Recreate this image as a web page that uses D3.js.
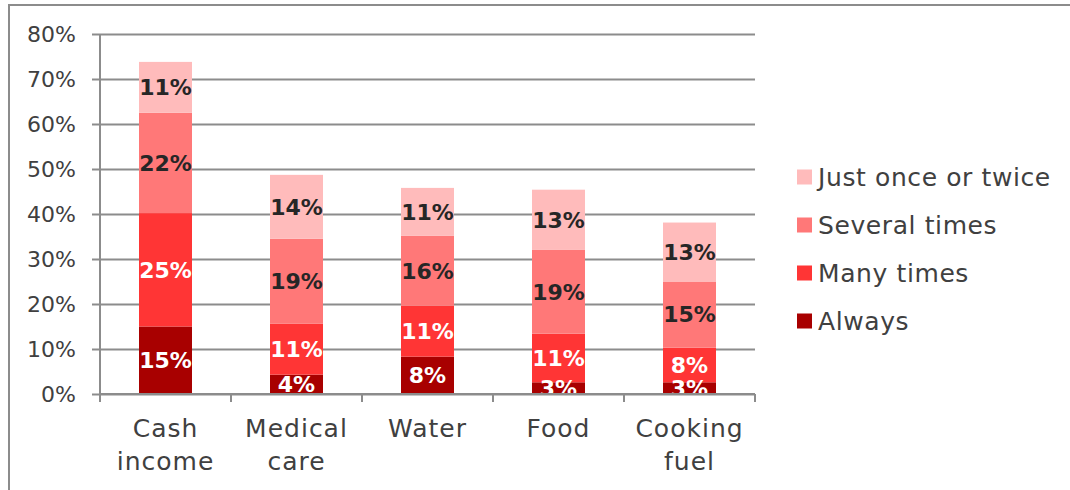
<!DOCTYPE html>
<html>
<head>
<meta charset="utf-8">
<script src="https://cdn.jsdelivr.net/npm/d3@7"></script>
<style>
  body { margin: 0; background: #fff; }
  text { font-family: "DejaVu Sans", sans-serif; }
</style>
</head>
<body>
<script>
'use strict';

const categories = [['Cash', 'income'], ['Medical', 'care'], ['Water'], ['Food'], ['Cooking', 'fuel']];
const seriesNames = ['Always', 'Many times', 'Several times', 'Just once or twice'];
const always   = [15.0, 4.3, 8.3, 2.6, 2.6];
const many     = [25.2, 11.3, 11.3, 10.8, 7.7];
const several  = [22.3, 18.9, 15.6, 18.7, 14.7];
const justOnce = [11.3, 14.2, 10.6, 13.3, 13.1];
const yTicks   = [0, 10, 20, 30, 40, 50, 60, 70, 80];

const colors    = ['#A80000', '#FF3535', '#FF7878', '#FFBBBB'];
const textColor = ['#ffffff', '#ffffff', '#262626', '#262626'];

const W = 1070, H = 490;
const plotL = 100, plotR = 755, plotT = 34, plotB = 394;
const barW = 53;

const series = [always, many, several, justOnce];
const rows = categories.map((c, i) => {
  const r = { key: i };
  seriesNames.forEach((s, j) => { r[s] = series[j][i]; });
  return r;
});
const stacked = d3.stack().keys(seriesNames)(rows);

const x = d3.scaleBand().domain(d3.range(categories.length)).range([plotL, plotR]).padding(0);
const y = d3.scaleLinear().domain([0, 80]).range([plotB, plotT]);
const off = (x.bandwidth() - barW) / 2;

const svg = d3.select('body').append('svg')
  .attr('width', W).attr('height', H);

// outer frame
svg.append('path')
  .attr('d', 'M9,' + H + 'V5H' + W)
  .attr('fill', 'none').attr('stroke', '#8c8c8c').attr('stroke-width', 2);

svg.append('clipPath').attr('id', 'plot')
  .append('rect').attr('x', plotL).attr('y', plotT).attr('width', plotR - plotL).attr('height', plotB - plotT);

// gridlines + y ticks
svg.append('g')
  .attr('transform', 'translate(' + plotL + ',0)')
  .call(d3.axisLeft(y).tickValues(yTicks).tickSize(-(plotR - plotL)).tickPadding(24)
    .tickFormat(d => d + '%'))
  .call(g => g.select('.domain').remove())
  .call(g => g.selectAll('.tick line').attr('x1', -8).attr('stroke', '#8c8c8c').attr('stroke-width', 2))
  .call(g => g.selectAll('.tick text').attr('font-size', 22).attr('fill', '#404040')
    .attr('font-family', '"DejaVu Sans", sans-serif'));

svg.append('line')
  .attr('x1', plotL).attr('x2', plotL).attr('y1', plotT).attr('y2', plotB + 8)
  .attr('stroke', '#8c8c8c').attr('stroke-width', 2);

// bars
const layer = svg.append('g').selectAll('g').data(stacked).join('g')
  .attr('fill', (d, i) => colors[i]);
layer.selectAll('rect').data(d => d).join('rect')
  .attr('x', d => x(d.data.key) + off)
  .attr('y', d => y(d[1]))
  .attr('width', barW)
  .attr('height', d => y(d[0]) - y(d[1]));

// labels
const lab = svg.append('g').attr('clip-path', 'url(#plot)');
stacked.forEach((s, i) => {
  lab.selectAll(null).data(s).join('text')
    .attr('x', d => x(d.data.key) + x.bandwidth() / 2)
    .attr('y', d => (y(d[0]) + y(d[1])) / 2)
    .attr('dy', '0.36em')
    .attr('text-anchor', 'middle')
    .attr('font-size', 22).attr('font-weight', 'bold')
    .attr('fill', textColor[i])
    .text(d => Math.round(d[1] - d[0]) + '%');
});

// x axis
svg.append('line')
  .attr('x1', plotL).attr('x2', plotR).attr('y1', plotB).attr('y2', plotB)
  .attr('stroke', '#8c8c8c').attr('stroke-width', 2);
svg.append('g').selectAll('line').data(d3.range(categories.length + 1)).join('line')
  .attr('x1', d => plotL + d * x.step()).attr('x2', d => plotL + d * x.step())
  .attr('y1', plotB).attr('y2', plotB + 8)
  .attr('stroke', '#8c8c8c').attr('stroke-width', 2);

const catText = svg.append('g').selectAll('text').data(categories).join('text')
  .attr('text-anchor', 'middle')
  .attr('font-size', 25).attr('letter-spacing', 1).attr('fill', '#404040')
  .attr('x', (d, i) => x(i) + x.bandwidth() / 2)
  .attr('y', 437);
catText.selectAll('tspan').data(d => d).join('tspan')
  .attr('x', function () { return d3.select(this.parentNode).attr('x'); })
  .attr('dy', (d, i) => i ? 33 : 0)
  .text(d => d);

// legend
const legend = svg.append('g').selectAll('g').data(seriesNames.slice().reverse()).join('g')
  .attr('transform', (d, i) => 'translate(797,' + (177 + i * 48) + ')');
legend.append('rect')
  .attr('x', 0).attr('y', -7.5).attr('width', 15).attr('height', 15)
  .attr('fill', (d, i) => colors[colors.length - 1 - i]);
legend.append('text')
  .attr('x', 21).attr('dy', '0.36em')
  .attr('font-size', 25).attr('letter-spacing', 0.6).attr('fill', '#404040')
  .text(d => d);
</script>
</body>
</html>
